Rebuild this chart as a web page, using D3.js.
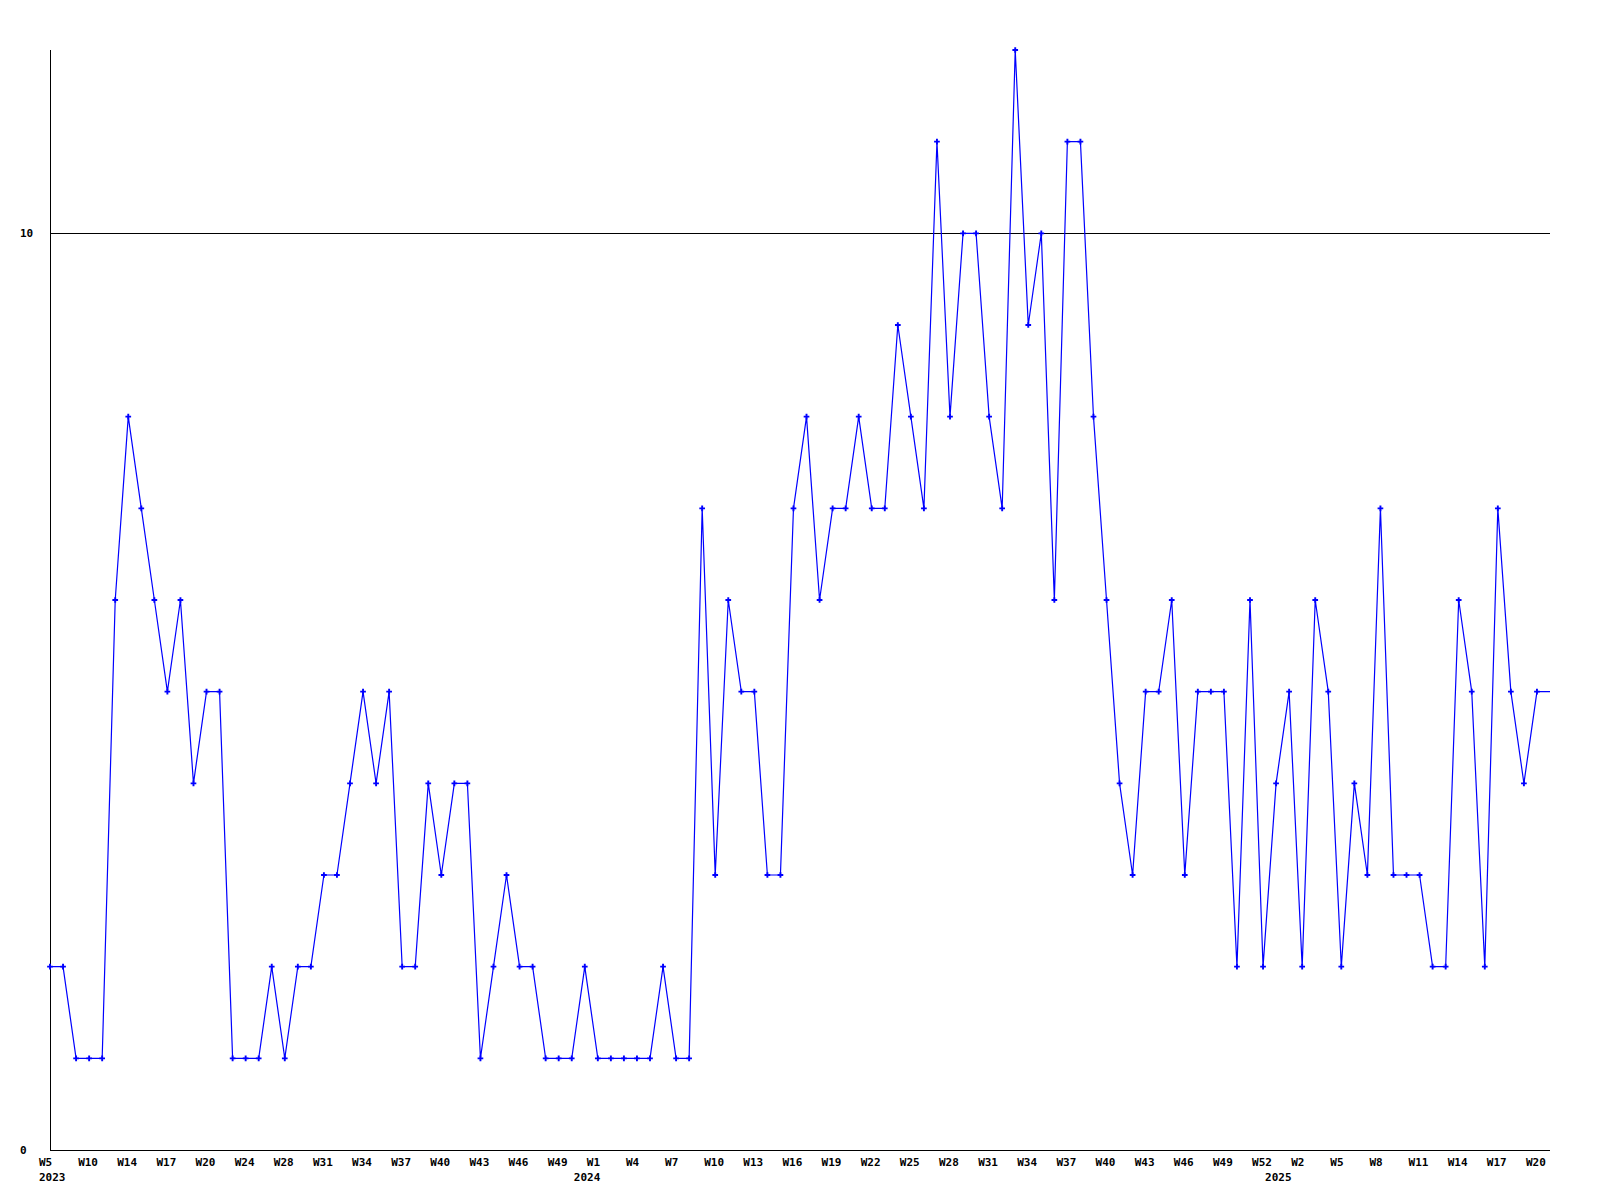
<!DOCTYPE html>
<html>
<head>
<meta charset="utf-8">
<script src="https://cdn.jsdelivr.net/npm/d3@7"></script>
<style>
  html, body { margin: 0; padding: 0; background: #fff; }
  text { font-family: "DejaVu Sans Mono", "Liberation Mono", monospace; font-weight: bold; font-size: 11px; fill: #000; }
</style>
</head>
<body>
<svg id="chart" width="1600" height="1200"></svg>
<script>
// weekly values, one per data point (115 points)
const values = [
  2, 2, 1, 1, 1, 6, 8, 7, 6, 5,
  6, 4, 5, 5, 1, 1, 1, 2, 1, 2,
  2, 3, 3, 4, 5, 4, 5, 2, 2, 4,
  3, 4, 4, 1, 2, 3, 2, 2, 1, 1,
  1, 2, 1, 1, 1, 1, 1, 2, 1, 1,
  7, 3, 6, 5, 5, 3, 3, 7, 8, 6,
  7, 7, 8, 7, 7, 9, 8, 7, 11, 8,
  10, 10, 8, 7, 12, 9, 10, 6, 11, 11,
  8, 6, 4, 3, 5, 5, 6, 3, 5, 5,
  5, 2, 6, 2, 4, 5, 2, 6, 5, 2,
  4, 3, 7, 3, 3, 3, 2, 2, 6, 5,
  2, 7, 5, 4, 5
];
// week tick labels, one every 3 points starting at point 0
const weekLabels = [
  "W5","W10","W14","W17","W20","W24","W28","W31","W34","W37","W40","W43","W46","W49",
  "W1","W4","W7","W10","W13","W16","W19","W22","W25","W28","W31","W34","W37","W40","W43","W46","W49","W52",
  "W2","W5","W8","W11","W14","W17","W20"
];
const weekLabelStep = 3;
// year labels and the point index they sit under
const yearLabels = ["2023", "2024", "2025"];
const yearIndex = [0, 41, 94];
// y tick values
const yTicks = [0, 10];

(function () {
const svg = d3.select("#chart");
const mLeft = 50, mRight = 1550, mTop = 50, mBottom = 1150;

const x = d3.scaleLinear().domain([0, values.length]).range([mLeft, mRight]);
const y = d3.scaleLinear().domain([0, 12]).range([mBottom, mTop]);

// axes
svg.append("line").attr("x1", mLeft + 0.5).attr("x2", mLeft + 0.5).attr("y1", mTop).attr("y2", mBottom + 0.5)
  .attr("stroke", "#000").attr("stroke-width", 1).attr("shape-rendering", "crispEdges");
svg.append("line").attr("x1", mLeft).attr("x2", mRight).attr("y1", mBottom + 0.5).attr("y2", mBottom + 0.5)
  .attr("stroke", "#000").attr("stroke-width", 1).attr("shape-rendering", "crispEdges");

// gridlines (non-zero ticks) and y labels
yTicks.forEach(t => {
  const yy = Math.round(y(t)) + 0.5;
  if (t !== 0) {
    svg.append("line").attr("x1", mLeft).attr("x2", mRight).attr("y1", yy).attr("y2", yy)
      .attr("stroke", "#000").attr("stroke-width", 1).attr("shape-rendering", "crispEdges");
  }
  svg.append("text").attr("x", 20).attr("y", y(t) + 4).text(t);
});

// x labels
weekLabels.forEach((lab, k) => {
  svg.append("text").attr("x", x(k * weekLabelStep) - 11).attr("y", 1166).text(lab);
});
yearLabels.forEach((lab, k) => {
  svg.append("text").attr("x", x(yearIndex[k]) - 11).attr("y", 1181).text(lab);
});

// line (extends flat to the end of the last slot)
const pts = values.map((v, i) => [x(i), y(v)]);
pts.push([x(values.length), y(values[values.length - 1])]);
svg.append("path")
  .attr("d", d3.line()(pts))
  .attr("fill", "none")
  .attr("stroke", "#0000ff")
  .attr("stroke-width", 1.2);

// markers
svg.append("g").selectAll("path").data(values).join("path")
  .attr("transform", (v, i) => `translate(${x(i)},${y(v)})`)
  .attr("d", d3.symbol().type(d3.symbolCross).size(18))
  .attr("fill", "#0000ff");
})();
</script>
</body>
</html>
